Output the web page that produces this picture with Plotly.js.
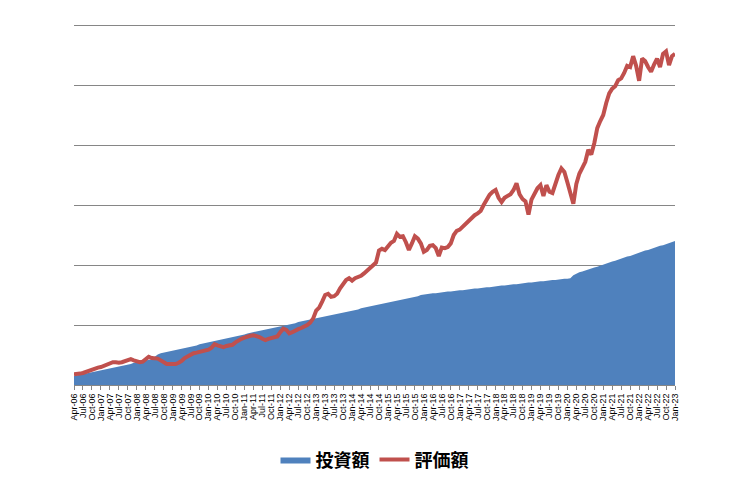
<!DOCTYPE html>
<html>
<head>
<meta charset="utf-8">
<script src="https://cdn.plot.ly/plotly-3.0.1.min.js"></script>
<style>
  html, body { margin: 0; padding: 0; background: #fff; }
  #chart { width: 735px; height: 479px; }
</style>
</head>
<body>
<div id="chart"></div>
<script>
// monthly data, Apr-06 .. Jan-23
const startYear = 2006;
const startMonth = 3; // Apr (0-based)
const monthNames = ["Jan", "Feb", "Mar", "Apr", "May", "Jun", "Jul", "Aug", "Sep", "Oct", "Nov", "Dec"];

// 投資額 (cumulative investment)
const investment = [
  15, 16, 17, 18, 19, 20, 21, 23, 24, 25,
  26, 27, 28, 29, 30, 31, 32, 33, 34, 35,
  37, 38, 39, 40, 41, 42, 43, 47, 51, 53,
  54, 55, 56, 57, 59, 60, 61, 62, 63, 64,
  65, 66, 68, 69, 70, 71, 72, 73, 74, 75,
  77, 78, 79, 80, 81, 82, 83, 84, 86, 87,
  88, 89, 90, 91, 92, 93, 95, 96, 97, 98,
  99, 100, 101, 102, 103, 105, 106, 107, 108, 109,
  110, 111, 112, 113, 114, 115, 117, 118, 119, 120,
  121, 122, 123, 124, 125, 126, 128, 129, 130, 131,
  132, 133, 134, 135, 136, 137, 139, 140, 141, 142,
  143, 144, 145, 146, 147, 148, 150, 151, 152, 152,
  153, 153, 154, 154, 155, 156, 156, 157, 157, 158,
  158, 159, 159, 160, 161, 161, 162, 162, 163, 163,
  164, 165, 165, 166, 166, 167, 167, 168, 168, 169,
  170, 170, 171, 171, 172, 172, 173, 173, 174, 174,
  175, 175, 176, 176, 177, 177, 178, 183, 186, 188,
  189, 191, 193, 194, 196, 197, 199, 201, 202, 204,
  206, 207, 209, 211, 212, 214, 215, 217, 219, 220,
  222, 224, 225, 227, 229, 230, 232, 233, 235, 237,
  238, 240
];

// 評価額 (market value)
const valuation = [
  18, 18, 19, 20, 22, 24, 26, 28, 29, 30,
  32, 34, 36, 38, 38, 37, 38, 40, 42, 43,
  41, 39, 38, 39, 44, 47, 45, 45, 44, 41,
  37, 35, 35, 35, 35, 37, 40, 45, 48, 51,
  53, 54, 55, 57, 57, 59, 62, 68, 66, 64,
  63, 65, 66, 67, 71, 75, 77, 79, 81, 82,
  83, 82, 80, 77, 75, 77, 78, 79, 81, 88,
  94, 92, 86, 88, 91, 93, 95, 97, 100, 104,
  111, 124, 129, 139, 150, 152, 147, 148, 152, 161,
  167, 175, 178, 174, 178, 180, 182, 186, 190, 196,
  200, 204, 224, 227, 225, 232, 237, 240, 252, 247,
  248, 238, 225, 236, 248, 244, 236, 222, 225, 232,
  233, 228, 215, 229, 228, 230, 236, 250, 257, 259,
  264, 268, 272, 277, 283, 286, 290, 300, 310, 317,
  322, 325, 312, 305, 312, 315, 318, 325, 336, 318,
  310, 306, 284, 309, 320, 328, 333, 315, 333, 322,
  320, 338, 350, 361, 355, 338, 318, 302, 335, 352,
  362, 372, 392, 384, 403, 428, 440, 450, 470, 486,
  494, 498, 508, 511, 520, 532, 530, 548, 532, 507,
  544, 540, 530, 522, 534, 544, 530, 552, 556, 533,
  548, 552
];

// month index on x, labels every 3 months
const xIdx = investment.map((v, i) => i);
const tickVals = [];
const tickText = [];
for (let i = 0; i < investment.length; i += 3) {
  const m = (startMonth + i) % 12;
  const y = startYear + Math.floor((startMonth + i) / 12);
  tickVals.push(i);
  tickText.push(monthNames[m] + "-" + String(y % 100).padStart(2, "0"));
}

const traces = [
  {
    x: xIdx,
    y: investment,
    name: "投資額",
    type: "scatter",
    mode: "lines",
    fill: "tozeroy",
    fillcolor: "#4F81BD",
    line: { color: "#4F81BD", width: 0 },
    hoverinfo: "skip"
  },
  {
    x: xIdx,
    y: valuation,
    name: "評価額",
    type: "scatter",
    mode: "lines",
    line: { color: "#C0504D", width: 4 }
  }
];

const layout = {
  width: 735,
  height: 479,
  margin: { l: 74, r: 60, t: 22, b: 94 },
  paper_bgcolor: "#ffffff",
  plot_bgcolor: "#ffffff",
  showlegend: true,
  legend: {
    orientation: "h",
    x: 0.5,
    xanchor: "center",
    yref: "container",
    y: 0.04,
    yanchor: "middle",
    font: { family: "Noto Sans CJK JP", size: 18, color: "#000", weight: "bold" },
    itemwidth: 30,
    traceorder: "normal"
  },
  xaxis: {
    range: [0, investment.length - 1],
    tickmode: "array",
    tickvals: tickVals,
    ticktext: tickText,
    tickangle: -90,
    tickfont: { family: "Liberation Sans", size: 9, color: "#000" },
    ticks: "outside",
    ticklen: 4,
    tickcolor: "#868686",
    showgrid: false,
    showline: true,
    linecolor: "#868686",
    linewidth: 1,
    zeroline: false,
    automargin: false
  },
  yaxis: {
    range: [0, 605],
    tickmode: "array",
    tickvals: [100, 200, 300, 400, 500, 600],
    showticklabels: false,
    ticks: "",
    showgrid: true,
    gridcolor: "#868686",
    gridwidth: 1,
    zeroline: false,
    showline: false,
    automargin: false
  }
};

Plotly.newPlot("chart", traces, layout, { displayModeBar: false, staticPlot: true });
</script>
</body>
</html>
